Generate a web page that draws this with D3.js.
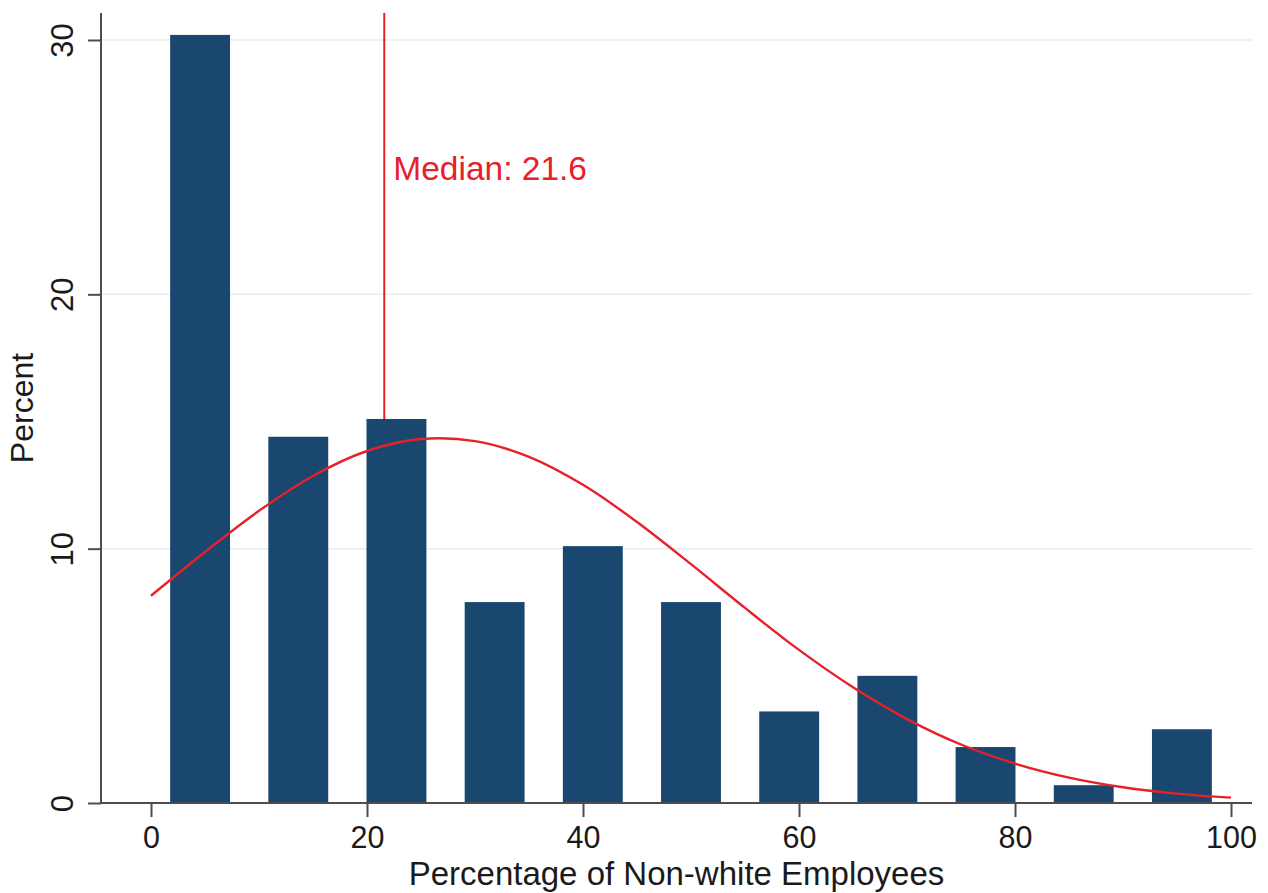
<!DOCTYPE html>
<html>
<head>
<meta charset="utf-8">
<script src="https://cdn.jsdelivr.net/npm/d3@7"></script>
<style>
  html, body { margin: 0; padding: 0; background: #ffffff; }
  svg { display: block; font-family: "Liberation Sans", Arial, sans-serif; }
</style>
</head>
<body>
<svg id="chart" width="1268" height="893"></svg>
<script>
// Histogram: share of firms (percent) by percentage of non-white employees, 11 equal bins over 0-100
const binCount = 11;
const binPercent = [30.2, 14.4, 15.1, 7.9, 10.1, 7.9, 3.6, 5.0, 2.2, 0.7, 2.9];

// Overlaid normal density, expressed in percent per bin
const curveX   = [0, 5, 10, 15, 20, 25, 30, 35, 40, 45, 50, 55, 60, 65, 70, 75, 80, 85, 90, 95, 100];
const curvePct = [8.15, 9.87, 11.49, 12.86, 13.84, 14.31, 14.23, 13.61, 12.51, 11.05, 9.39,
                  7.67, 6.02, 4.55, 3.30, 2.30, 1.55, 1.00, 0.62, 0.37, 0.21];

const medianValue = 21.6;
const xTicks = [0, 20, 40, 60, 80, 100];
const yTicks = [0, 10, 20, 30];
const gridTicks = [10, 20, 30];

const svg = d3.select("#chart");

const x = d3.scaleLinear().domain([0, 100]).range([151, 1231]);
const y = d3.scaleLinear().domain([0, 30]).range([803, 40]);

const frame = { left: 101, right: 1252, top: 13, bottom: 803 };
const navy = "#1a476f";
const red = "#e8202a";
const axisColor = "#4d4d4d";
const textColor = "#1a1a1a";

// Horizontal grid lines
svg.append("g").selectAll("line").data(gridTicks).join("line")
  .attr("x1", frame.left).attr("x2", frame.right)
  .attr("y1", d => y(d)).attr("y2", d => y(d))
  .attr("stroke", "#e6eef0").attr("stroke-width", 1.5);

// Median reference line (behind bars)
svg.append("line")
  .attr("x1", x(medianValue)).attr("x2", x(medianValue))
  .attr("y1", frame.top).attr("y2", y(0))
  .attr("stroke", red).attr("stroke-width", 2);

// Bars
const binWidth = 100 / binCount;
const barFrac = 0.61;
svg.append("g").selectAll("rect").data(binPercent).join("rect")
  .attr("x", (d, i) => x(binWidth * (i + 0.5 - barFrac / 2)))
  .attr("width", (d, i) => x(binWidth * (i + 0.5 + barFrac / 2)) - x(binWidth * (i + 0.5 - barFrac / 2)))
  .attr("y", d => y(d))
  .attr("height", d => y(0) - y(d))
  .attr("fill", navy);

// Normal curve
const line = d3.line()
  .x((d, i) => x(curveX[i]))
  .y(d => y(d))
  .curve(d3.curveCatmullRom);
svg.append("path")
  .datum(curvePct)
  .attr("d", line)
  .attr("fill", "none")
  .attr("stroke", red)
  .attr("stroke-width", 2.4);

// Median label
svg.append("text")
  .attr("x", x(medianValue) + 9)
  .attr("y", 180)
  .attr("fill", red)
  .attr("font-size", 33.5)
  .text("Median: " + medianValue);

// Axes
const xAxis = d3.axisBottom(x).tickValues(xTicks).tickSize(14).tickPadding(9.3).tickFormat(d3.format("d"));
const gx = svg.append("g").attr("transform", `translate(0,${frame.bottom})`).call(xAxis);
gx.select(".domain").remove();
gx.append("line").attr("x1", frame.left).attr("x2", frame.right).attr("y1", 0).attr("y2", 0)
  .attr("stroke", axisColor).attr("stroke-width", 2);
gx.selectAll(".tick line").attr("stroke", axisColor).attr("stroke-width", 2);
gx.selectAll(".tick text").attr("fill", textColor).attr("font-size", 30.5)
  .attr("font-family", "'Liberation Sans', Arial, sans-serif");

const yAxis = d3.axisLeft(y).tickValues(yTicks).tickSize(13).tickPadding(0).tickFormat(d3.format("d"));
const gy = svg.append("g").attr("transform", `translate(${frame.left},0)`).call(yAxis);
gy.select(".domain").remove();
gy.append("line").attr("x1", 0).attr("x2", 0).attr("y1", frame.top).attr("y2", frame.bottom)
  .attr("stroke", axisColor).attr("stroke-width", 2);
gy.selectAll(".tick line").attr("stroke", axisColor).attr("stroke-width", 2);
gy.selectAll(".tick text")
  .attr("x", null).attr("dy", null)
  .attr("text-anchor", "middle")
  .attr("transform", "translate(-28,0) rotate(-90)")
  .attr("fill", textColor).attr("font-size", 31)
  .attr("font-family", "'Liberation Sans', Arial, sans-serif");

// Axis titles
svg.append("text")
  .attr("x", (frame.left + frame.right) / 2)
  .attr("y", 885)
  .attr("text-anchor", "middle")
  .attr("fill", textColor)
  .attr("font-size", 33)
  .text("Percentage of Non-white Employees");

svg.append("text")
  .attr("transform", `translate(33,${(frame.top + frame.bottom) / 2}) rotate(-90)`)
  .attr("text-anchor", "middle")
  .attr("fill", textColor)
  .attr("font-size", 32)
  .text("Percent");
</script>
</body>
</html>
